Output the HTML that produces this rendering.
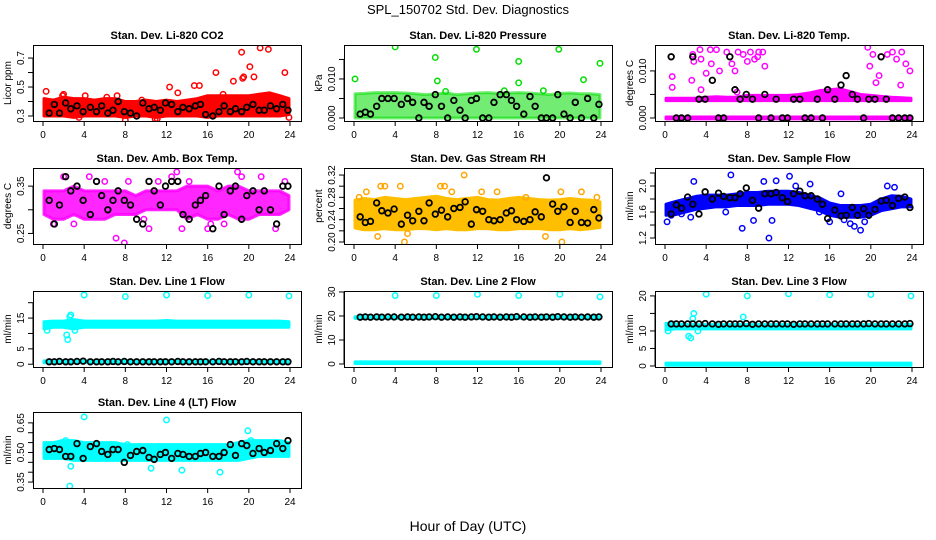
<!DOCTYPE html>
<html><head><meta charset="utf-8">
<style>
html,body{margin:0;padding:0;background:#fff;}
svg{display:block;font-family:"Liberation Sans",Arial,sans-serif;}
</style></head>
<body>
<svg id="chart" width="936" height="540" viewBox="0 0 936 540" xmlns="http://www.w3.org/2000/svg">
<text x="468" y="14" text-anchor="middle" font-size="13">SPL_150702  Std. Dev. Diagnostics</text>
<text x="468" y="531" text-anchor="middle" font-size="14">Hour of Day (UTC)</text>
</svg>
<script>
const meanX=[0.6,1.1,1.6,2.2,2.7,3.3,3.9,4.6,5.2,5.7,6.3,6.8,7.3,7.9,8.5,9.1,9.7,10.3,10.8,11.4,11.9,12.5,13.1,13.6,14.2,14.8,15.3,15.8,16.5,17.1,17.6,18.2,18.7,19.3,19.8,20.4,21.0,21.5,22.1,22.7,23.3,23.8];
const bandX=[0.1,1,2,3,4,5,6,7,8,9,10,11,12,13,14,15,16,17,18,19,20,21,22,23,23.9];
const xTicks=[0,4,8,12,16,20,24];

const co2MeanY=[0.32,0.38,0.32,0.39,0.35,0.37,0.33,0.36,0.33,0.37,0.32,0.34,0.40,0.33,0.32,0.30,0.39,0.35,0.36,0.34,0.39,0.38,0.33,0.36,0.35,0.37,0.38,0.31,0.30,0.33,0.37,0.33,0.35,0.33,0.36,0.38,0.34,0.34,0.37,0.35,0.38,0.34];
const co2BandLo=[0.30,0.30,0.30,0.29,0.30,0.30,0.30,0.30,0.29,0.30,0.30,0.29,0.30,0.30,0.30,0.30,0.29,0.30,0.30,0.30,0.30,0.30,0.30,0.30,0.31];
const co2BandHi=[0.42,0.41,0.43,0.42,0.42,0.41,0.42,0.42,0.40,0.40,0.41,0.40,0.41,0.40,0.41,0.42,0.44,0.44,0.44,0.44,0.44,0.45,0.46,0.44,0.42];
const co2PtsX=[0.3,1.9,4.1,6.2,7.2,8.0,10.9,12.3,13.1,14.7,15.2,16.8,18.5,19.3,19.4,19.5,20.1,20.5,21.1,21.9,23.5,23.9,3.5,9.6,17.5,22.3,11.1,2.0];
const co2PtsY=[0.47,0.44,0.44,0.43,0.44,0.27,0.28,0.50,0.46,0.51,0.51,0.60,0.54,0.74,0.56,0.57,0.64,0.57,0.77,0.76,0.60,0.29,0.29,0.41,0.45,0.43,0.28,0.45];

const presMeanY=[0.001,0.0015,0.001,0.003,0.005,0.005,0.005,0.0035,0.005,0.004,0.000,0.004,0.003,0.006,0.003,0.000,0.0045,0.002,0.000,0.0045,0.005,0.000,0.000,0.004,0.006,0.006,0.0045,0.003,0.001,0.0055,0.003,0.000,0.000,0.000,0.006,0.001,0.000,0.004,0.000,0.005,0.000,0.0035];
const presBandLo=[0,0,0,0,0,0,0,0,0,0,0,0,0,0,0,0,0,0,0,0,0,0,0,0,0];
const presBandHi=[0.0062,0.0063,0.0065,0.0065,0.0065,0.0064,0.0062,0.0060,0.0062,0.0064,0.0060,0.0062,0.0064,0.0065,0.0063,0.0064,0.0065,0.0064,0.0062,0.0060,0.0063,0.0064,0.0062,0.0062,0.0060];
const presPtsX=[0.1,4.0,7.9,8.1,11.9,16.0,16.0,19.9,22.3,23.9,8.9,14.6,18.4];
const presPtsY=[0.0100,0.0182,0.0155,0.0095,0.0176,0.0145,0.0090,0.0176,0.0098,0.0140,0.0068,0.0070,0.0070];

const tempMeanY=[0.013,0,0,0,0.013,0.004,0.004,0.008,0,0,0.013,0.006,0.004,0.005,0.004,0,0.005,0,0.004,0,0,0.004,0.004,0,0,0.004,0,0.006,0.004,0.007,0.009,0.005,0.004,0,0.004,0.004,0.013,0.004,0,0,0,0];
const tempBandLo=[-0.0002,-0.0002,-0.0002,-0.0002,-0.0002,-0.0002,-0.0002,-0.0002,-0.0002,-0.0002,-0.0002,-0.0002,-0.0002,-0.0002,-0.0002,-0.0002,-0.0002,-0.0002,-0.0002,-0.0002,-0.0002,-0.0002,-0.0002,-0.0002,-0.0002];
const tempBandHi=[0.0002,0.0002,0.0002,0.0002,0.0002,0.0002,0.0002,0.0002,0.0002,0.0002,0.0002,0.0002,0.0002,0.0002,0.0002,0.0002,0.0002,0.0002,0.0002,0.0002,0.0002,0.0002,0.0002,0.0002,0.0002];
const tempBand2Lo=[0.0037,0.0037,0.0037,0.0037,0.0037,0.0037,0.0037,0.0037,0.0037,0.0037,0.0037,0.0037,0.0037,0.0037,0.0037,0.0037,0.0037,0.0037,0.0037,0.0037,0.0037,0.0037,0.0037,0.0037,0.0037];
const tempBand2Hi=[0.0042,0.0042,0.0042,0.0042,0.0044,0.0045,0.0044,0.0044,0.0048,0.0048,0.0048,0.0048,0.0048,0.0050,0.0053,0.0058,0.0060,0.0062,0.0056,0.0050,0.0048,0.0046,0.0044,0.0043,0.0042];
const tempPtsX=[0.6,0.7,2.7,2.8,3.4,3.5,4.4,4.5,5.0,5.3,6.0,6.5,7.1,7.6,8.0,8.3,8.7,9.1,9.5,9.7,19.7,19.9,20.2,20.5,21.0,21.6,22.1,22.5,23.0,23.4,23.8,2.6,4.0,6.8,9.0,20.8,22.9,0.7,3.5,7.0];
const tempPtsY=[0.0130,0.0065,0.0135,0.0120,0.0145,0.0125,0.0145,0.0115,0.0145,0.0100,0.0140,0.0115,0.0140,0.0135,0.0120,0.0140,0.0125,0.0140,0.0140,0.0110,0.0150,0.0110,0.0135,0.0075,0.0130,0.0135,0.0140,0.0125,0.0140,0.0115,0.0100,0.0080,0.0095,0.0100,0.0130,0.0090,0.0070,0.0088,0.0060,0.0055];

const ambMeanY=[0.32,0.27,0.31,0.37,0.34,0.35,0.32,0.29,0.36,0.33,0.30,0.32,0.34,0.32,0.31,0.28,0.27,0.36,0.34,0.31,0.35,0.36,0.36,0.29,0.28,0.31,0.32,0.33,0.26,0.35,0.29,0.34,0.35,0.28,0.33,0.34,0.30,0.34,0.30,0.27,0.35,0.35];
const ambBandLo=[0.29,0.28,0.28,0.29,0.28,0.28,0.28,0.29,0.29,0.29,0.30,0.30,0.30,0.30,0.28,0.29,0.28,0.28,0.29,0.28,0.28,0.29,0.29,0.29,0.30];
const ambBandHi=[0.34,0.34,0.34,0.35,0.34,0.34,0.34,0.34,0.34,0.33,0.34,0.34,0.34,0.34,0.35,0.35,0.35,0.34,0.35,0.35,0.34,0.34,0.34,0.34,0.33];
const ambPtsX=[2.0,4.5,5.2,7.1,7.9,8.3,10.3,11.2,12.5,13.0,13.5,14.2,16.0,16.3,18.9,19.3,21.2,22.6,1.0,6.0,3.0,9.8,17.6,23.5];
const ambPtsY=[0.37,0.37,0.36,0.24,0.23,0.36,0.26,0.36,0.37,0.38,0.26,0.36,0.26,0.27,0.38,0.37,0.37,0.26,0.27,0.36,0.27,0.28,0.27,0.36];

const rhMeanY=[0.245,0.235,0.237,0.27,0.256,0.252,0.259,0.232,0.248,0.238,0.255,0.238,0.27,0.25,0.257,0.245,0.26,0.262,0.272,0.232,0.258,0.255,0.24,0.238,0.24,0.252,0.256,0.24,0.237,0.24,0.254,0.245,0.315,0.268,0.255,0.263,0.235,0.255,0.235,0.234,0.258,0.243];
const rhBandLo=[0.225,0.222,0.222,0.224,0.222,0.222,0.224,0.224,0.222,0.224,0.222,0.222,0.224,0.224,0.222,0.222,0.224,0.224,0.224,0.222,0.222,0.224,0.222,0.224,0.226];
const rhBandHi=[0.275,0.278,0.276,0.280,0.278,0.276,0.278,0.280,0.282,0.278,0.276,0.278,0.280,0.276,0.275,0.278,0.280,0.278,0.276,0.275,0.276,0.278,0.276,0.275,0.272];
const rhPtsX=[0.5,1.2,2.3,3.0,4.5,4.9,8.4,8.8,10.7,12.4,13.9,18.6,20.1,20.2,22.1,23.6,5.2,16.7,2.6,9.5];
const rhPtsY=[0.28,0.29,0.21,0.30,0.30,0.20,0.30,0.30,0.32,0.29,0.29,0.21,0.29,0.20,0.29,0.28,0.215,0.28,0.30,0.29];

const flowMeanY=[1.57,1.71,1.66,1.83,1.72,1.57,1.91,1.80,1.89,1.84,1.82,1.82,1.88,1.97,1.78,1.66,1.88,1.88,1.90,1.82,1.76,1.88,1.92,1.85,1.85,1.80,1.72,1.50,1.63,1.54,1.55,1.67,1.55,1.65,1.55,1.64,1.77,1.78,1.70,1.81,1.83,1.67];
const flowBandLo=[1.55,1.56,1.60,1.64,1.66,1.68,1.68,1.70,1.70,1.70,1.72,1.72,1.72,1.70,1.66,1.62,1.55,1.52,1.52,1.52,1.55,1.62,1.65,1.68,1.68];
const flowBandHi=[1.72,1.76,1.80,1.84,1.86,1.86,1.86,1.88,1.90,1.90,1.92,1.92,1.92,1.90,1.86,1.82,1.74,1.70,1.70,1.70,1.72,1.80,1.85,1.84,1.80];
const flowPtsX=[0.2,1.6,2.5,2.8,6.4,7.5,8.6,10.1,10.4,10.8,12.1,12.7,14.1,15.0,16.0,17.1,18.0,18.4,19.0,19.4,22.3,0.6,9.6,5.9,21.6,17.4];
const flowPtsY=[1.45,1.57,1.52,2.07,2.17,1.35,1.47,1.20,1.47,2.08,2.15,2.00,2.03,1.60,1.45,1.88,1.42,1.38,1.32,1.45,1.98,1.55,2.07,1.60,2.00,1.48];

const l1MeanY=[0.8,0.8,0.9,0.8,0.8,0.9,1.0,0.8,0.8,0.8,0.8,0.9,0.8,0.9,0.8,0.8,0.8,0.8,0.8,0.8,0.8,0.8,0.9,0.8,0.8,0.8,0.8,0.8,0.8,0.9,0.8,0.8,0.8,0.8,0.9,0.8,0.8,0.8,0.8,0.8,0.8,0.8];
const l1BandLo=[11.5,12.0,12.0,11.5,12.0,12.0,12.0,12.0,12.0,12.0,12.0,12.0,12.0,12.0,12.0,12.0,12.0,12.0,12.0,12.0,12.0,12.0,12.0,12.0,12.0];
const l1BandHi=[13.8,14.0,14.0,14.5,14.0,14.0,14.0,14.0,14.0,14.0,14.0,14.0,14.2,14.0,14.0,14.0,14.0,14.0,14.0,14.0,14.0,14.0,14.0,14.0,13.8];
const l1Band2Lo=[0.5,0.5,0.5,0.5,0.5,0.5,0.5,0.5,0.5,0.5,0.5,0.5,0.5,0.5,0.5,0.5,0.5,0.5,0.5,0.5,0.5,0.5,0.5,0.5,0.5];
const l1Band2Hi=[1.1,1.1,1.1,1.1,1.1,1.1,1.1,1.1,1.1,1.1,1.1,1.1,1.1,1.1,1.1,1.1,1.1,1.1,1.1,1.1,1.1,1.1,1.1,1.1,1.1];
const l1PtsX=[4.0,8.0,12.0,16.0,20.0,23.9,2.3,2.4,2.6,2.7,0.4,3.1];
const l1PtsY=[22.5,22.0,22.5,22.3,22.5,22.2,9.5,8.0,15.5,16.0,11.0,11.0];

const l2MeanY=[19.5,19.6,19.5,19.6,19.5,19.6,19.6,19.5,19.6,19.5,19.6,19.5,19.6,19.7,19.5,19.6,19.5,19.6,19.5,19.6,19.7,19.6,19.5,19.6,19.5,19.6,19.5,19.7,19.6,19.5,19.6,19.5,19.6,19.5,19.7,19.6,19.5,19.6,19.5,19.6,19.5,19.6];
const l2BandLo=[19.0,19.0,19.0,19.0,19.0,19.0,19.0,19.0,19.0,19.0,19.0,19.0,19.0,19.0,19.0,19.0,19.0,19.0,19.0,19.0,19.0,19.0,19.0,19.0,19.0];
const l2BandHi=[19.7,19.7,19.7,19.7,19.7,19.7,19.7,19.7,19.7,19.7,19.7,19.7,19.7,19.7,19.7,19.7,19.7,19.7,19.7,19.7,19.7,19.7,19.7,19.7,19.7];
const l2Band2Lo=[0.2,0.2,0.2,0.2,0.2,0.2,0.2,0.2,0.2,0.2,0.2,0.2,0.2,0.2,0.2,0.2,0.2,0.2,0.2,0.2,0.2,0.2,0.2,0.2,0.2];
const l2Band2Hi=[0.9,0.9,0.9,0.9,0.9,0.9,0.9,0.9,0.9,0.9,0.9,0.9,0.9,0.9,0.9,0.9,0.9,0.9,0.9,0.9,0.9,0.9,0.9,0.9,0.9];
const l2PtsX=[4,8,12,16,20,23.9];
const l2PtsY=[28.5,28.5,29.0,28.5,29.0,28.0];

const l3MeanY=[12.0,12.0,12.0,12.0,12.0,12.0,12.1,12.0,11.9,12.0,12.0,12.0,12.0,12.1,11.9,12.0,12.0,12.0,12.0,12.0,12.0,11.9,12.0,12.0,12.0,12.0,12.0,12.0,12.0,12.0,12.0,12.0,12.0,12.0,12.1,12.0,12.0,12.0,12.0,12.0,12.0,12.1];
const l3BandLo=[10.3,10.6,10.6,10.6,10.6,10.6,10.6,10.6,10.6,10.6,10.6,10.6,10.6,10.6,10.6,10.6,10.6,10.6,10.6,10.6,10.6,10.6,10.6,10.6,10.6];
const l3BandHi=[12.2,12.0,11.8,11.8,11.8,11.8,11.8,11.8,11.8,11.8,11.8,11.8,11.8,11.8,11.8,11.8,11.8,11.8,11.8,11.8,11.8,11.8,11.8,11.8,11.8];
const l3Band2Lo=[0.2,0.2,0.2,0.2,0.2,0.2,0.2,0.2,0.2,0.2,0.2,0.2,0.2,0.2,0.2,0.2,0.2,0.2,0.2,0.2,0.2,0.2,0.2,0.2,0.2];
const l3Band2Hi=[0.8,0.8,0.8,0.8,0.8,0.8,0.8,0.8,0.8,0.8,0.8,0.8,0.8,0.8,0.8,0.8,0.8,0.8,0.8,0.8,0.8,0.8,0.8,0.8,0.8];
const l3PtsX=[4,8,12,16,20,23.9,2.3,2.5,2.7,2.8,3.2,0.3,7.6];
const l3PtsY=[20.5,20.0,20.6,20.3,20.4,20.0,8.5,8.0,13.5,15.0,10.0,10.0,14.0];

const l4MeanY=[0.515,0.52,0.515,0.48,0.48,0.545,0.47,0.53,0.545,0.505,0.49,0.515,0.515,0.45,0.485,0.505,0.51,0.475,0.465,0.49,0.50,0.47,0.495,0.49,0.48,0.48,0.495,0.50,0.48,0.48,0.50,0.54,0.485,0.545,0.535,0.495,0.52,0.50,0.51,0.545,0.52,0.56];
const l4BandLo=[0.47,0.47,0.47,0.46,0.46,0.46,0.46,0.46,0.46,0.46,0.46,0.46,0.46,0.46,0.46,0.46,0.46,0.46,0.46,0.46,0.47,0.48,0.48,0.48,0.48];
const l4BandHi=[0.55,0.55,0.56,0.56,0.55,0.55,0.55,0.55,0.54,0.54,0.54,0.54,0.54,0.54,0.54,0.54,0.54,0.54,0.54,0.55,0.56,0.56,0.56,0.56,0.55];
const l4PtsX=[2.6,2.7,4.0,12.0,19.9,2.2,13.5,17.2,20.2,0.5,1.8,8.2,10.5];
const l4PtsY=[0.33,0.43,0.68,0.665,0.61,0.56,0.41,0.40,0.56,0.53,0.55,0.54,0.42];

const panels=[
 {key:'co2',title:'Stan. Dev. Li-820 CO2',ylab:'Licor ppm',col:0,row:0,y0:0.2655,y1:0.79,ticks:[0.3,0.4,0.5,0.6,0.7],labels:['0.3','','0.5','','0.7'],color:'#ff0000',bands:[[co2BandLo,co2BandHi]],px:co2PtsX,py:co2PtsY,my:co2MeanY},
 {key:'pressure',title:'Stan. Dev. Li-820 Pressure',ylab:'kPa',col:1,row:0,y0:-0.00077,y1:0.0187,ticks:[0,0.005,0.010,0.015],labels:['0.000','','0.010',''],color:'#00dd00',bands:[[presBandLo,presBandHi]],op:0.55,px:presPtsX,py:presPtsY,my:presMeanY},
 {key:'temp',title:'Stan. Dev. Li-820 Temp.',ylab:'degrees C',col:2,row:0,y0:-0.00064,y1:0.0155,ticks:[0,0.005,0.010],labels:['0.000','','0.010'],color:'#ff00ff',bands:[[tempBandLo,tempBandHi],[tempBand2Lo,tempBand2Hi]],px:tempPtsX,py:tempPtsY,my:tempMeanY},
 {key:'amb',title:'Stan. Dev. Amb. Box Temp.',ylab:'degrees C',col:0,row:1,y0:0.2277,y1:0.3883,ticks:[0.25,0.30,0.35],labels:['0.25','','0.35'],color:'#ff00ff',bands:[[ambBandLo,ambBandHi]],op:0.85,px:ambPtsX,py:ambPtsY,my:ambMeanY},
 {key:'rh',title:'Stan. Dev. Gas Stream RH',ylab:'percent',col:1,row:1,y0:0.1964,y1:0.3326,ticks:[0.20,0.22,0.24,0.26,0.28,0.30,0.32],labels:['0.20','','0.24','','0.28','','0.32'],color:'#ffa500',fill:'#ffbf00',bands:[[rhBandLo,rhBandHi]],px:rhPtsX,py:rhPtsY,my:rhMeanY},
 {key:'sampleflow',title:'Stan. Dev. Sample Flow',ylab:'ml/min',col:2,row:1,y0:1.108,y1:2.277,ticks:[1.2,1.4,1.6,1.8,2.0,2.2],labels:['1.2','','1.6','','2.0',''],color:'#0000ff',bands:[[flowBandLo,flowBandHi]],px:flowPtsX,py:flowPtsY,my:flowMeanY},
 {key:'line1',title:'Stan. Dev. Line 1 Flow',ylab:'ml/min',col:0,row:2,y0:-0.9,y1:23.8,ticks:[0,5,10,15,20],labels:['0','5','','15',''],color:'#00ffff',bands:[[l1BandLo,l1BandHi],[l1Band2Lo,l1Band2Hi]],px:l1PtsX,py:l1PtsY,my:l1MeanY},
 {key:'line2',title:'Stan. Dev. Line 2 Flow',ylab:'ml/min',col:1,row:2,y0:-1.25,y1:30.4,ticks:[0,10,20,30],labels:['0','10','20','30'],color:'#00ffff',bands:[[l2BandLo,l2BandHi],[l2Band2Lo,l2Band2Hi]],px:l2PtsX,py:l2PtsY,my:l2MeanY},
 {key:'line3',title:'Stan. Dev. Line 3 Flow',ylab:'ml/min',col:2,row:2,y0:-0.29,y1:21.4,ticks:[0,5,10,15,20],labels:['0','5','10','','20'],color:'#00ffff',bands:[[l3BandLo,l3BandHi],[l3Band2Lo,l3Band2Hi]],px:l3PtsX,py:l3PtsY,my:l3MeanY},
 {key:'line4',title:'Stan. Dev. Line 4 (LT) Flow',ylab:'ml/min',col:0,row:3,y0:0.32,y1:0.705,ticks:[0.35,0.40,0.45,0.50,0.55,0.60,0.65],labels:['0.35','','','0.50','','','0.65'],color:'#00ffff',bands:[[l4BandLo,l4BandHi]],px:l4PtsX,py:l4PtsY,my:l4MeanY}
];

const NS='http://www.w3.org/2000/svg';
const svg=document.getElementById('chart');
const colLeft=[33,344,655], rowTop=[45,168,291,412], W=268, H=76;
function mk(tag,attrs,parent){const e=document.createElementNS(NS,tag);for(const k in attrs)e.setAttribute(k,attrs[k]);(parent||svg).appendChild(e);return e;}

panels.forEach(p=>{
  const L=colLeft[p.col], T=rowTop[p.row];
  const xs=h=>L+10+h*(247/24);
  const ys=v=>T+H-(v-p.y0)/(p.y1-p.y0)*H;
  const g=mk('g',{});
  
  
  const clip=mk('clipPath',{id:'clip-'+p.key},g);
  mk('rect',{x:L,y:T,width:W,height:H},clip);
  const pg=mk('g',{'clip-path':'url(#clip-'+p.key+')'},g);
  p.bands.forEach((b,bi)=>{
    let pts=[];
    bandX.forEach((h,i)=>pts.push(xs(h)+','+ys(b[1][i])));
    for(let i=bandX.length-1;i>=0;i--)pts.push(xs(bandX[i])+','+ys(b[0][i]));
    const poly=mk('polygon',{points:pts.join(' '),fill:p.fill||p.color,stroke:p.fill||p.color,'stroke-width':3,'stroke-linejoin':'round','fill-opacity':p.op||1,'stroke-opacity':p.op||1},pg);
    
    
  });
  p.px.forEach((x,i)=>{
    const c=mk('circle',{cx:xs(x),cy:ys(p.py[i]),r:2.7,fill:'none',stroke:p.color,'stroke-width':1.5},pg);
    
    
  });
  meanX.forEach((x,i)=>{
    const c=mk('circle',{cx:xs(x),cy:ys(p.my[i]),r:2.8,fill:'none',stroke:'#000','stroke-width':1.8},pg);
    
    
  });
  const box=mk('rect',{x:L+0.5,y:T+0.5,width:W,height:H,fill:'none',stroke:'#000','stroke-width':1},g);
  
  
  const t=mk('text',{x:L+W/2,y:T-6,'text-anchor':'middle','font-size':11,'font-weight':'bold'},g);
  t.textContent=p.title;
  
  
  xTicks.forEach(h=>{
    mk('line',{x1:xs(h),x2:xs(h),y1:T+H,y2:T+H+5,stroke:'#000'},g);
    const tl=mk('text',{x:xs(h),y:T+H+17,'text-anchor':'middle','font-size':10},g);
    tl.textContent=h;
    
    
  });
  mk('line',{x1:L,x2:L,y1:ys(p.ticks[0]),y2:ys(p.ticks[p.ticks.length-1]),stroke:'#000'},g);
  p.ticks.forEach((v,i)=>{
    const y=ys(v);
    mk('line',{x1:L-5,x2:L,y1:y,y2:y,stroke:'#000'},g);
    if(p.labels[i]){
      const tl=mk('text',{x:L-9,y:y,'text-anchor':'middle','font-size':10,transform:'rotate(-90 '+(L-9)+' '+y+')'},g);
      tl.textContent=p.labels[i];
      
      
    }
  });
  const yl=mk('text',{x:L-22,y:T+H/2,'text-anchor':'middle','font-size':10,transform:'rotate(-90 '+(L-22)+' '+(T+H/2)+')'},g);
  yl.textContent=p.ylab;
  
  
});
</script>
</body></html>
